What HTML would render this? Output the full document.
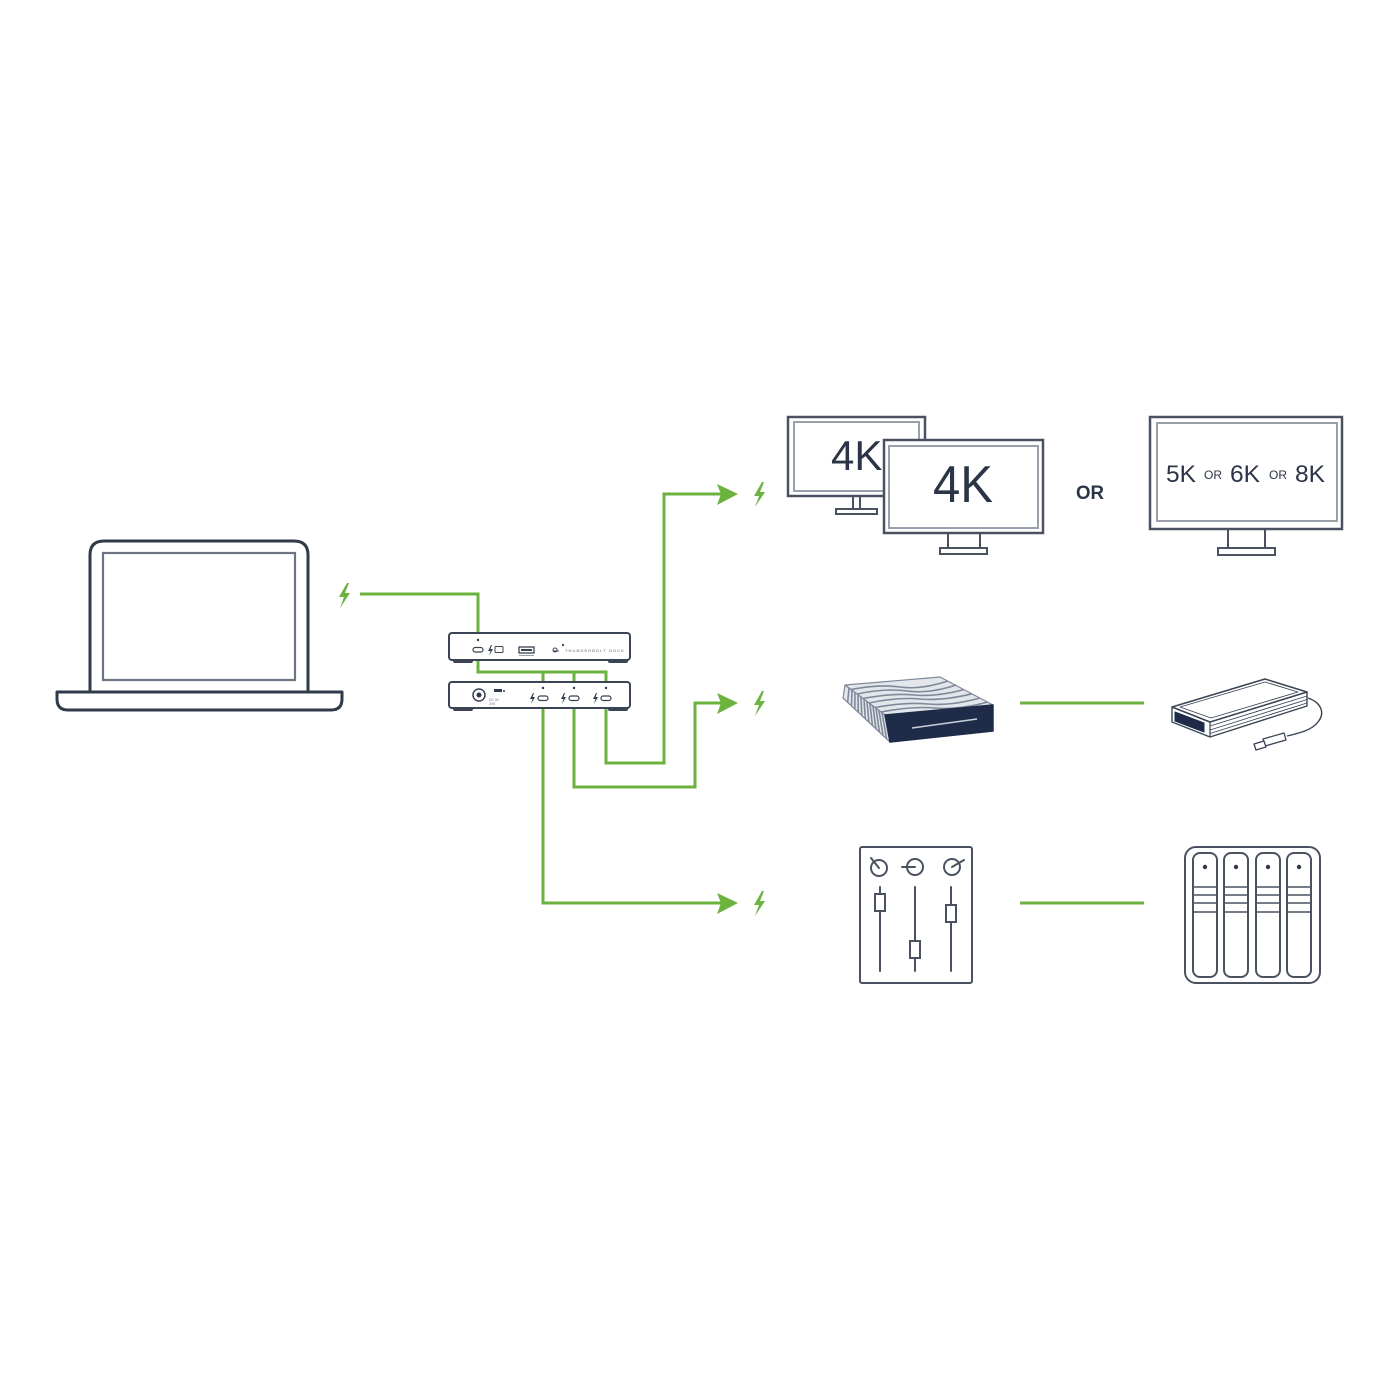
<!DOCTYPE html>
<html>
<head>
<meta charset="utf-8">
<style>
  html,body{margin:0;padding:0;background:#fff;}
  svg{display:block;}
  text{font-family:"Liberation Sans", sans-serif;}
</style>
</head>
<body>
<svg width="1400" height="1400" viewBox="0 0 1400 1400" xmlns="http://www.w3.org/2000/svg">
  <rect width="1400" height="1400" fill="#ffffff"/>

  <!-- ============ LAPTOP ============ -->
  <g fill="none" stroke="#2f3a4b" stroke-width="3" stroke-linejoin="round">
    <path d="M90,692 V555 Q90,541 104,541 H294 Q308,541 308,555 V692"/>
    <path d="M57,692 H342 V699 Q342,710 331,710 H68 Q57,710 57,699 Z"/>
  </g>
  <rect x="103" y="553" width="192" height="127" fill="none" stroke="#6d7482" stroke-width="2.2"/>

  <!-- ============ GREEN CONNECTORS ============ -->
  <g fill="none" stroke="#6bb23f" stroke-width="3" stroke-linejoin="miter">
    <path d="M360,594 H478 V634"/>
    <path d="M478,660 V672 H606 V683"/>
    <path d="M543,672 V683"/>
    <path d="M574,672 V683"/>
    <!-- to displays -->
    <path d="M606,708 V763 H664 V494 H722"/>
    <!-- to storage -->
    <path d="M574,708 V787 H695 V703 H722"/>
    <!-- to audio -->
    <path d="M543,708 V903 H722"/>
    <!-- daisy chain lines -->
    <path d="M1020,703 H1144"/>
    <path d="M1020,903 H1144"/>
  </g>
  <!-- arrowheads -->
  <g fill="#6bb23f">
    <polygon points="717,484 738,494 717,505 721,494"/>
    <polygon points="717,693 738,703 717,714 721,703"/>
    <polygon points="717,893 738,903 717,914 721,903"/>
  </g>
  <!-- lightning bolts -->
  <g fill="#6bb23f">
    <polygon points="347,583 339,597 344,597 340,608 350,593 345,593 349,583"/>
    <polygon points="762,482 754,496 759,496 755,507 765,492 760,492 764,482"/>
    <polygon points="762,691 754,705 759,705 755,716 765,701 760,701 764,691"/>
    <polygon points="762,891 754,905 759,905 755,916 765,901 760,901 764,891"/>
  </g>

  <!-- ============ HUB (top unit) ============ -->
  <g>
    <rect x="453" y="659" width="20" height="4" rx="2" fill="#3a4454"/>
    <rect x="608" y="659" width="20" height="4" rx="2" fill="#3a4454"/>
    <rect x="449" y="633" width="181" height="27" rx="3" fill="#fff" stroke="#3a4454" stroke-width="2"/>
    <circle cx="478" cy="640" r="1.2" fill="#2f3a4b"/>
    <rect x="473" y="647.5" width="10" height="4.5" rx="2.2" fill="none" stroke="#3a4454" stroke-width="1.2"/>
    <path d="M491,645 L488,651 L490.5,651 L489,656 L493,649 L490.5,649 L492,645 Z" fill="#3a4454"/>
    <rect x="495" y="646.5" width="8" height="6" rx="1" fill="none" stroke="#3a4454" stroke-width="1"/>
    <rect x="519" y="647" width="15" height="6" fill="#fff" stroke="#3a4454" stroke-width="1.3"/>
    <rect x="521" y="649" width="11" height="2" fill="#3a4454"/>
    <rect x="519" y="655" width="15" height="1" fill="#9aa1ad"/>
    <circle cx="555" cy="650" r="2" fill="none" stroke="#3a4454" stroke-width="1"/>
    <line x1="553" y1="651" x2="559" y2="651" stroke="#3a4454" stroke-width="1"/>
    <circle cx="563" cy="645" r="1.1" fill="#2f3a4b"/>
    <text x="565" y="652" font-size="4" letter-spacing="1.1" fill="#5a6270">THUNDERBOLT DOCK</text>
  </g>

  <!-- ============ HUB (bottom unit) ============ -->
  <g>
    <rect x="453" y="707" width="20" height="4" rx="2" fill="#3a4454"/>
    <rect x="608" y="707" width="20" height="4" rx="2" fill="#3a4454"/>
    <rect x="449" y="682" width="181" height="26" rx="3" fill="#fff" stroke="#3a4454" stroke-width="2"/>
    <circle cx="479" cy="695" r="6" fill="none" stroke="#3a4454" stroke-width="1.5"/>
    <circle cx="479" cy="695" r="2.5" fill="#2f3a4b"/>
    <rect x="494" y="689" width="8" height="3" fill="#2f3a4b"/>
    <circle cx="504" cy="691" r="1" fill="#2f3a4b"/>
    <text x="489" y="701" font-size="3.5" fill="#6d7482">DC IN</text>
    <text x="489" y="705" font-size="3.5" fill="#6d7482">20V</text>
    <!-- TB ports -->
    <g fill="none" stroke="#3a4454" stroke-width="1.2">
      <rect x="538" y="696" width="10" height="4.5" rx="2.2"/>
      <rect x="569" y="696" width="10" height="4.5" rx="2.2"/>
      <rect x="601" y="696" width="10" height="4.5" rx="2.2"/>
    </g>
    <g fill="#2f3a4b">
      <circle cx="543" cy="688" r="1.2"/>
      <circle cx="574" cy="688" r="1.2"/>
      <circle cx="606" cy="688" r="1.2"/>
      <path d="M533,693 L530,699 L532.5,699 L531,704 L535,697 L532.5,697 L534,693 Z"/>
      <path d="M564,693 L561,699 L563.5,699 L562,704 L566,697 L563.5,697 L565,693 Z"/>
      <path d="M596,693 L593,699 L595.5,699 L594,704 L598,697 L595.5,697 L597,693 Z"/>
    </g>
  </g>

  <!-- ============ MONITORS ============ -->
  <!-- back 4K monitor -->
  <g>
    <rect x="853" y="496" width="7" height="13" fill="#fff" stroke="#4a5261" stroke-width="2"/>
    <rect x="836" y="509" width="41" height="5" fill="#fff" stroke="#4a5261" stroke-width="2"/>
    <rect x="788" y="417" width="137" height="79" fill="#fff" stroke="#4a5261" stroke-width="2.5"/>
    <rect x="794" y="422" width="125" height="69" fill="none" stroke="#9aa0aa" stroke-width="2"/>
    <text x="831" y="470" font-size="42" fill="#2b3547">4K</text>
  </g>
  <!-- front 4K monitor -->
  <g>
    <rect x="948" y="533" width="32" height="15" fill="#fff" stroke="#4a5261" stroke-width="2"/>
    <rect x="940" y="548" width="47" height="6" fill="#fff" stroke="#4a5261" stroke-width="2"/>
    <rect x="884" y="440" width="159" height="93" fill="#fff" stroke="#4a5261" stroke-width="2.5"/>
    <rect x="889" y="446" width="149" height="82" fill="none" stroke="#9aa0aa" stroke-width="2"/>
    <text x="933" y="502" font-size="52" textLength="60" lengthAdjust="spacingAndGlyphs" fill="#2b3547">4K</text>
  </g>

  <text x="1076" y="499" font-size="19" font-weight="bold" textLength="28" lengthAdjust="spacingAndGlyphs" fill="#2b3547">OR</text>

  <!-- big monitor -->
  <g>
    <rect x="1228" y="529" width="37" height="19" fill="#fff" stroke="#4a5261" stroke-width="2"/>
    <rect x="1218" y="548" width="57" height="7" fill="#fff" stroke="#4a5261" stroke-width="2"/>
    <rect x="1150" y="417" width="192" height="112" fill="#fff" stroke="#4a5261" stroke-width="2.5"/>
    <rect x="1157" y="423" width="180" height="98" fill="none" stroke="#9aa0aa" stroke-width="2"/>
    <g fill="#2b3547">
      <text x="1166" y="482" font-size="24" textLength="30" lengthAdjust="spacingAndGlyphs">5K</text>
      <text x="1204" y="479" font-size="12" textLength="18" lengthAdjust="spacingAndGlyphs">OR</text>
      <text x="1230" y="482" font-size="24" textLength="30" lengthAdjust="spacingAndGlyphs">6K</text>
      <text x="1269" y="479" font-size="12" textLength="18" lengthAdjust="spacingAndGlyphs">OR</text>
      <text x="1295" y="482" font-size="24" textLength="30" lengthAdjust="spacingAndGlyphs">8K</text>
    </g>
  </g>

  <!-- ============ HARD DRIVE ============ -->
  <g stroke-linejoin="round">
    <polygon points="845,685 940,677 993,705 885,715" fill="#e3e7ec" stroke="#7f8999" stroke-width="1.2"/>
    <polygon points="845,685 885,715 890,742 843,698" fill="#e3e7ec" stroke="#7f8999" stroke-width="1.2"/>
    <g fill="none" stroke="#7f8999" stroke-width="1.6">
      <path d="M851,689.5 Q880,684 900,687 T948,681"/>
      <path d="M857,694 Q885,688 907,691 T956,685"/>
      <path d="M863,698.5 Q892,693 914,695 T964,689.6"/>
      <path d="M869,703 Q898,697 920,699 T972,693.8"/>
      <path d="M875,707.5 Q905,702 928,704 T980,698"/>
      <path d="M881,712 Q912,706 935,708 T988,702"/>
      <path d="M849,688 L847.7,702.4"/>
      <path d="M852,690 L851.5,706"/>
      <path d="M855,692.5 L854.8,709"/>
      <path d="M858,695 L858.3,712"/>
      <path d="M861,697 L861.8,715.6"/>
      <path d="M864,699 L865.3,719"/>
      <path d="M867,701.5 L868.9,722.2"/>
      <path d="M870,704 L872.4,725.5"/>
      <path d="M873,706 L875.9,728.8"/>
      <path d="M876,708 L879.4,732"/>
      <path d="M879,710.5 L883,735.4"/>
      <path d="M882,712.5 L886.5,738.5"/>
    </g>
    <polygon points="885,715 993,705 993,731 890,742" fill="#1e2c4a" stroke="#1e2c4a" stroke-width="1.5"/>
    <line x1="912" y1="728" x2="977" y2="719" stroke="#c9d0da" stroke-width="1.6"/>
  </g>

  <!-- ============ SSD ============ -->
  <g stroke="#3a4454" stroke-linejoin="round" fill="#fff">
    <path d="M1308,698 C1320,702 1326,712 1318,722 C1312,730 1300,733 1287,736" fill="none" stroke-width="1.4"/>
    <polygon points="1263,739 1284,733 1286,740 1265,746" stroke-width="1.3"/>
    <polygon points="1254,744 1264,741 1266,747 1256,750" stroke-width="1.3"/>
    <polygon points="1172,722 1210,737 1307,706 1307,692 1210,722 1172,707" stroke-width="1.4"/>
    <line x1="1210" y1="726" x2="1307" y2="696" stroke-width="0.9"/>
    <line x1="1210" y1="730" x2="1307" y2="699.5" stroke-width="0.9"/>
    <line x1="1210" y1="733.5" x2="1307" y2="703" stroke-width="0.9"/>
    <line x1="1210" y1="722" x2="1210" y2="737" stroke-width="1.2"/>
    <polygon points="1172,707 1265,679 1307,692 1210,722" stroke-width="1.5"/>
    <polygon points="1180,707 1265,682 1298,692 1211,718" fill="none" stroke-width="0.9"/>
    <polygon points="1175,712 1204,723 1204,732 1175,721" fill="#1e2c4a" stroke="#1e2c4a" stroke-width="1"/>
  </g>

  <!-- ============ AUDIO MIXER ============ -->
  <g fill="none" stroke="#4a5261" stroke-width="2" stroke-linecap="round">
    <rect x="860" y="847" width="112" height="136" rx="2"/>
    <circle cx="879" cy="868" r="8"/>
    <line x1="871" y1="858" x2="879" y2="868"/>
    <circle cx="915" cy="867" r="8"/>
    <line x1="902" y1="867" x2="915" y2="867"/>
    <circle cx="952" cy="867" r="8"/>
    <line x1="952" y1="867" x2="964" y2="860"/>
    <line x1="880" y1="887" x2="880" y2="971"/>
    <line x1="915" y1="887" x2="915" y2="971"/>
    <line x1="951" y1="887" x2="951" y2="971"/>
  </g>
  <g fill="#fff" stroke="#4a5261" stroke-width="2">
    <rect x="875" y="894" width="10" height="17"/>
    <rect x="910" y="941" width="10" height="17"/>
    <rect x="946" y="905" width="10" height="17"/>
  </g>

  <!-- ============ NAS ============ -->
  <g fill="none" stroke="#4a5261" stroke-width="2">
    <rect x="1185" y="847" width="135" height="136" rx="11"/>
    <rect x="1193" y="853" width="24" height="124" rx="7"/>
    <rect x="1224" y="853" width="24" height="124" rx="7"/>
    <rect x="1256" y="853" width="24" height="124" rx="7"/>
    <rect x="1287" y="853" width="24" height="124" rx="7"/>
    <g stroke-width="1.6">
      <path d="M1193,887 H1217 M1193,895 H1217 M1193,903 H1217 M1193,912 H1217"/>
      <path d="M1224,887 H1248 M1224,895 H1248 M1224,903 H1248 M1224,912 H1248"/>
      <path d="M1256,887 H1280 M1256,895 H1280 M1256,903 H1280 M1256,912 H1280"/>
      <path d="M1287,887 H1311 M1287,895 H1311 M1287,903 H1311 M1287,912 H1311"/>
    </g>
  </g>
  <g fill="#2f3a4b">
    <circle cx="1205" cy="867" r="2.2"/>
    <circle cx="1236" cy="867" r="2.2"/>
    <circle cx="1268" cy="867" r="2.2"/>
    <circle cx="1299" cy="867" r="2.2"/>
  </g>
</svg>
</body>
</html>
